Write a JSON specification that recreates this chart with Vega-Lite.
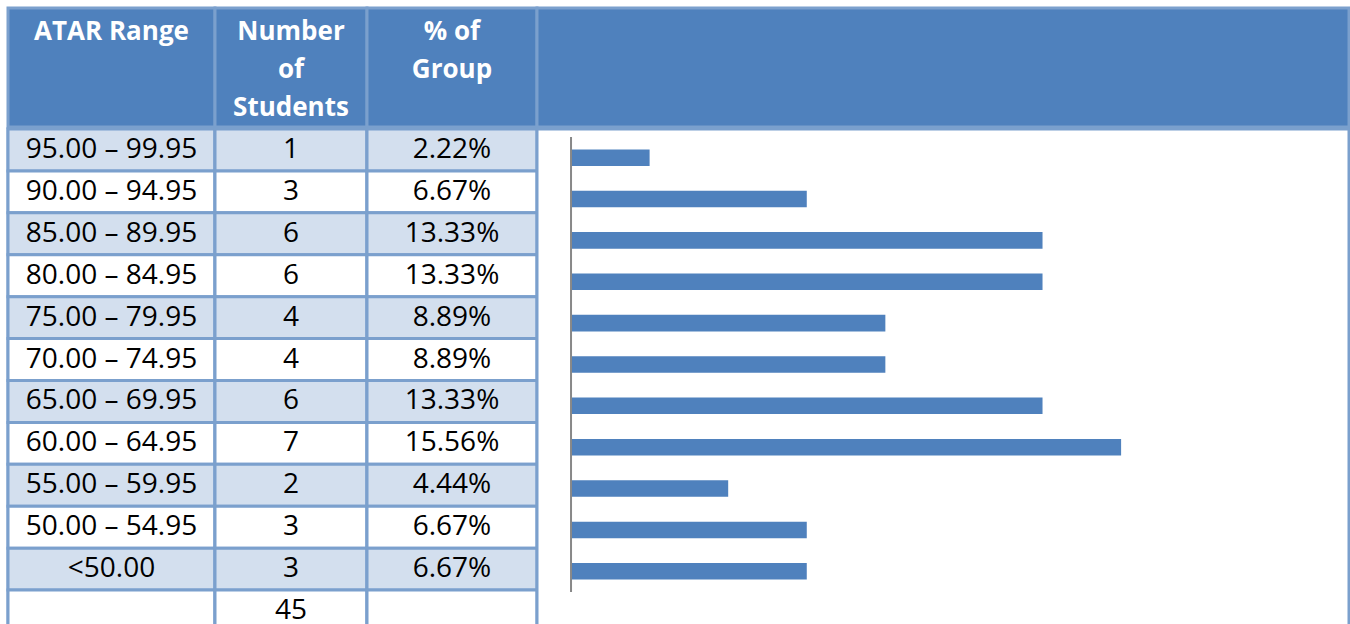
{
  "$schema": "https://vega.github.io/schema/vega-lite/v6.json",
  "padding": {"left": 5, "top": 6, "right": 0, "bottom": 0},
  "background": "white",
  "spacing": -3,
  "bounds": "full",
  "config": {
    "view": {"stroke": "#7BA0CD", "strokeWidth": 3},
    "concat": {"spacing": 0},
    "text": {"font": "Open Sans", "fontSize": 28, "color": "black"}
  },
  "datasets": {
    "header": [
      {"col": 1, "line": 1, "text": "ATAR Range"},
      {"col": 2, "line": 1, "text": "Number"},
      {"col": 2, "line": 2, "text": "of"},
      {"col": 2, "line": 3, "text": "Students"},
      {"col": 3, "line": 1, "text": "% of"},
      {"col": 3, "line": 2, "text": "Group"}
    ],
    "rows": [
      {"row": 1, "range": "95.00 – 99.95", "n": 1, "pct": 0.0222},
      {"row": 2, "range": "90.00 – 94.95", "n": 3, "pct": 0.0667},
      {"row": 3, "range": "85.00 – 89.95", "n": 6, "pct": 0.1333},
      {"row": 4, "range": "80.00 – 84.95", "n": 6, "pct": 0.1333},
      {"row": 5, "range": "75.00 – 79.95", "n": 4, "pct": 0.0889},
      {"row": 6, "range": "70.00 – 74.95", "n": 4, "pct": 0.0889},
      {"row": 7, "range": "65.00 – 69.95", "n": 6, "pct": 0.1333},
      {"row": 8, "range": "60.00 – 64.95", "n": 7, "pct": 0.1556},
      {"row": 9, "range": "55.00 – 59.95", "n": 2, "pct": 0.0444},
      {"row": 10, "range": "50.00 – 54.95", "n": 3, "pct": 0.0667},
      {"row": 11, "range": "<50.00", "n": 3, "pct": 0.0667},
      {"row": 12, "range": "", "n": 45, "pct": null}
    ]
  },
  "vconcat": [
    {
      "spacing": 0,
      "bounds": "flush",
      "hconcat": [
        {
          "width": 207, "height": 119,
          "view": {"fill": "#4F81BD", "stroke": "#7BA0CD", "strokeWidth": 3},
          "data": {"name": "header"},
          "transform": [{"filter": "datum.col === 1"}],
          "mark": {"type": "text", "color": "white", "fontWeight": "bold", "fontSize": 26},
          "encoding": {
            "y": {"field": "line", "type": "ordinal", "axis": null, "scale": {"type": "band", "domain": [1, 2, 3], "paddingInner": 0, "paddingOuter": 0.066, "align": 1}},
            "text": {"field": "text"}
          }
        },
        {
          "width": 152, "height": 119,
          "view": {"fill": "#4F81BD", "stroke": "#7BA0CD", "strokeWidth": 3},
          "data": {"name": "header"},
          "transform": [{"filter": "datum.col === 2"}],
          "mark": {"type": "text", "color": "white", "fontWeight": "bold", "fontSize": 26},
          "encoding": {
            "y": {"field": "line", "type": "ordinal", "axis": null, "scale": {"type": "band", "domain": [1, 2, 3], "paddingInner": 0, "paddingOuter": 0.066, "align": 1}},
            "text": {"field": "text"}
          }
        },
        {
          "width": 170, "height": 119,
          "view": {"fill": "#4F81BD", "stroke": "#7BA0CD", "strokeWidth": 3},
          "data": {"name": "header"},
          "transform": [{"filter": "datum.col === 3"}],
          "mark": {"type": "text", "color": "white", "fontWeight": "bold", "fontSize": 26},
          "encoding": {
            "y": {"field": "line", "type": "ordinal", "axis": null, "scale": {"type": "band", "domain": [1, 2, 3], "paddingInner": 0, "paddingOuter": 0.066, "align": 1}},
            "text": {"field": "text"}
          }
        },
        {
          "width": 812, "height": 119,
          "view": {"fill": "#4F81BD", "stroke": "#7BA0CD", "strokeWidth": 3},
          "data": {"name": "header"},
          "transform": [{"filter": "datum.col === 4"}],
          "mark": {"type": "text", "color": "white", "fontWeight": "bold", "fontSize": 26},
          "encoding": {
            "y": {"field": "line", "type": "ordinal", "axis": null, "scale": {"type": "band", "domain": [1, 2, 3], "paddingInner": 0, "paddingOuter": 0.066, "align": 1}},
            "text": {"field": "text"}
          }
        }
      ]
    },
    {
      "spacing": 0,
      "bounds": "flush",
      "hconcat": [
        {
          "width": 207, "height": 503,
          "data": {"name": "rows"},
          "encoding": {"y": {"field": "row", "type": "ordinal", "axis": null, "scale": {"type": "band", "paddingInner": 0, "paddingOuter": 0}}},
          "layer": [
            {
              "mark": {"type": "rect", "stroke": "#7BA0CD", "strokeWidth": 3},
              "encoding": {"fill": {"condition": {"test": "datum.row % 2 === 1", "value": "#D3DFEE"}, "value": "white"}}
            },
            {
              "transform": [{"filter": "datum.row < 12"}],
              "mark": {"type": "text"},
              "encoding": {"text": {"field": "range"}}
            }
          ]
        },
        {
          "width": 152, "height": 503,
          "data": {"name": "rows"},
          "encoding": {"y": {"field": "row", "type": "ordinal", "axis": null, "scale": {"type": "band", "paddingInner": 0, "paddingOuter": 0}}},
          "layer": [
            {
              "mark": {"type": "rect", "stroke": "#7BA0CD", "strokeWidth": 3},
              "encoding": {"fill": {"condition": {"test": "datum.row % 2 === 1", "value": "#D3DFEE"}, "value": "white"}}
            },
            {
              "mark": {"type": "text"},
              "encoding": {"text": {"field": "n", "type": "quantitative"}}
            }
          ]
        },
        {
          "width": 170, "height": 503,
          "data": {"name": "rows"},
          "encoding": {"y": {"field": "row", "type": "ordinal", "axis": null, "scale": {"type": "band", "paddingInner": 0, "paddingOuter": 0}}},
          "layer": [
            {
              "mark": {"type": "rect", "stroke": "#7BA0CD", "strokeWidth": 3},
              "encoding": {"fill": {"condition": {"test": "datum.row % 2 === 1", "value": "#D3DFEE"}, "value": "white"}}
            },
            {
              "transform": [{"filter": "datum.row < 12"}],
              "mark": {"type": "text"},
              "encoding": {"text": {"field": "pct", "type": "quantitative", "format": ".2%"}}
            }
          ]
        },
        {
          "width": 812, "height": 503,
          "view": {"fill": "white", "stroke": "#7BA0CD", "strokeWidth": 3},
          "layer": [
            {
              "data": {"name": "rows"},
              "transform": [{"filter": "datum.row < 12"}],
              "mark": {"type": "bar", "color": "#4F81BD"},
              "encoding": {
                "x": {"field": "n", "type": "quantitative", "axis": null, "scale": {"domain": [-0.433, 9.9], "nice": false, "zero": false}},
                "y": {"field": "row", "type": "ordinal", "axis": null, "scale": {"type": "band", "paddingInner": 0.6, "paddingOuter": 0.88, "align": 0.28}}
              }
            },
            {
              "data": {"values": [{"axis": "x"}]},
              "mark": {"type": "rule", "color": "#888888", "strokeWidth": 2, "yOffset": -20.7, "y2Offset": 20.7},
              "encoding": {
                "x": {"datum": 0, "type": "quantitative"},
                "y": {"datum": 1, "type": "ordinal"},
                "y2": {"datum": 11}
              }
            }
          ]
        }
      ]
    }
  ]
}
